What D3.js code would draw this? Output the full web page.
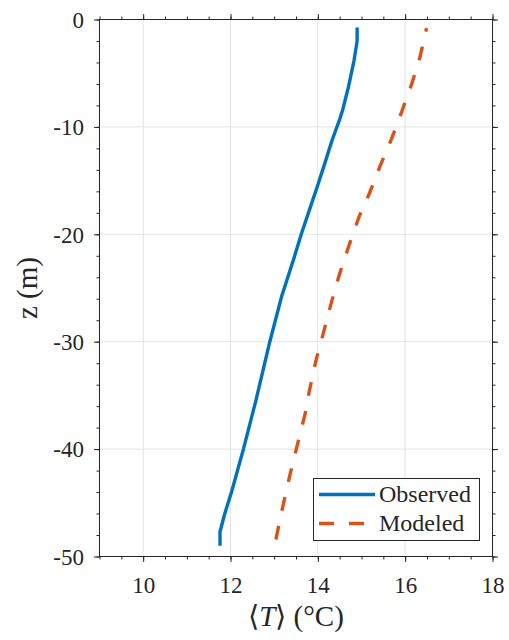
<!DOCTYPE html>
<html>
<head>
<meta charset="utf-8">
<script src="https://cdn.jsdelivr.net/npm/d3@7"></script>
<style>
  html, body { margin: 0; padding: 0; background: #fff; }
  svg { display: block; }
</style>
</head>
<body>
<svg id="chart" width="509" height="640"></svg>
<script>
// Mean temperature profiles: depth z (m) and temperature <T> (°C)
const obsDepth = [-0.75, -2.0, -3.8, -6.3, -8.4, -9.3, -11.2, -13.0, -15.4, -17.1, -20.0, -22.4, -25.8, -30.0, -35.5, -40.1, -43.9, -46.0, -47.7, -49.0];
const obsTemp  = [14.90, 14.90, 14.83, 14.70, 14.57, 14.50, 14.33, 14.19, 14.00, 13.86, 13.62, 13.44, 13.17, 12.90, 12.58, 12.29, 12.03, 11.87, 11.76, 11.76];

const modDepth = [-0.8, -3.5, -6.0, -8.6, -11.1, -13.7, -16.2, -18.3, -21.2, -23.8, -26.5, -29.3, -31.7, -34.7, -36.7, -39.8, -42.6, -45.3, -48.4, -48.9];
const modTemp  = [16.49, 16.34, 16.15, 15.92, 15.69, 15.42, 15.18, 14.95, 14.70, 14.49, 14.30, 14.12, 13.96, 13.80, 13.71, 13.52, 13.35, 13.20, 13.04, 13.01];

const tempTicks  = [10, 12, 14, 16, 18];
const tempMinor  = d3.range(9, 18.01, 0.5);
const depthTicks = [0, -10, -20, -30, -40, -50];
const depthMinor = d3.range(-50, 0.01, 2);

const seriesNames = ["Observed", "Modeled"];

(function draw() {
  const svg = d3.select("#chart");
  const mLeft = 99.5, mRight = 492.5, mTop = 19.5, mBottom = 556.5;

  const x = d3.scaleLinear().domain([9, 18]).range([mLeft, mRight]);
  const y = d3.scaleLinear().domain([-50, 0]).range([mBottom, mTop]);

  const axisColor = "#262626";
  const serifFont = '"Liberation Serif", "Times New Roman", serif';

  // grid
  const grid = svg.append("g");
  grid.selectAll(".gx").data(tempTicks.filter(t => t > 9 && t < 18)).join("line")
    .attr("x1", d => x(d)).attr("x2", d => x(d))
    .attr("y1", mTop).attr("y2", mBottom)
    .attr("stroke", "#e3e3e3").attr("stroke-width", 1);
  grid.selectAll(".gy").data(depthTicks.filter(t => t > -50 && t < 0)).join("line")
    .attr("x1", mLeft).attr("x2", mRight)
    .attr("y1", d => y(d)).attr("y2", d => y(d))
    .attr("stroke", "#e3e3e3").attr("stroke-width", 1);

  function styleAxis(g) {
    g.attr("font-family", null).attr("font-size", null);
    g.select(".domain").remove();
    g.selectAll(".tick line").attr("stroke", axisColor).attr("stroke-width", 1);
    g.selectAll(".tick text").attr("fill", axisColor)
      .style("font-family", serifFont).style("font-size", "23px");
  }

  const major = 5.5, minor = 3;

  // bottom
  svg.append("g").attr("transform", `translate(0,${mBottom})`)
    .call(d3.axisBottom(x).tickValues(tempMinor).tickSize(minor).tickFormat(""))
    .call(styleAxis);
  const bx = svg.append("g").attr("transform", `translate(0,${mBottom})`)
    .call(d3.axisBottom(x).tickValues(tempTicks).tickSize(major).tickFormat(d3.format("d")))
    .call(styleAxis);
  bx.selectAll(".tick text").attr("y", 36).attr("dy", 0);

  // top
  svg.append("g").attr("transform", `translate(0,${mTop})`)
    .call(d3.axisTop(x).tickValues(tempMinor).tickSize(minor).tickFormat(""))
    .call(styleAxis);
  svg.append("g").attr("transform", `translate(0,${mTop})`)
    .call(d3.axisTop(x).tickValues(tempTicks).tickSize(major).tickFormat(""))
    .call(styleAxis);

  // left
  svg.append("g").attr("transform", `translate(${mLeft},0)`)
    .call(d3.axisLeft(y).tickValues(depthMinor).tickSize(minor).tickFormat(""))
    .call(styleAxis);
  const ly = svg.append("g").attr("transform", `translate(${mLeft},0)`)
    .call(d3.axisLeft(y).tickValues(depthTicks).tickSize(major).tickPadding(10)
      .tickFormat(d => d === 0 ? "0" : "-" + Math.abs(d)))
    .call(styleAxis);
  ly.selectAll(".tick text").attr("dy", "0.34em");

  // right
  svg.append("g").attr("transform", `translate(${mRight},0)`)
    .call(d3.axisRight(y).tickValues(depthMinor).tickSize(minor).tickFormat(""))
    .call(styleAxis);
  svg.append("g").attr("transform", `translate(${mRight},0)`)
    .call(d3.axisRight(y).tickValues(depthTicks).tickSize(major).tickFormat(""))
    .call(styleAxis);

  // box
  svg.append("rect")
    .attr("x", mLeft).attr("y", mTop)
    .attr("width", mRight - mLeft).attr("height", mBottom - mTop)
    .attr("fill", "none").attr("stroke", axisColor).attr("stroke-width", 1);

  // profiles
  const line = d3.line().x(d => x(d[1])).y(d => y(d[0]));
  const obs = d3.zip(obsDepth, obsTemp);
  const mod = d3.zip(modDepth, modTemp);

  svg.append("path").datum(mod)
    .attr("d", line)
    .attr("fill", "none").attr("stroke", "#D95319").attr("stroke-width", 3.4)
    .attr("stroke-dasharray", "14,15.5")
    .attr("stroke-dashoffset", 10.5);

  svg.append("path").datum(obs)
    .attr("d", line)
    .attr("fill", "none").attr("stroke", "#0072BD").attr("stroke-width", 3.4)
    .attr("stroke-linejoin", "round");

  // axis labels
  const xl = svg.append("text")
    .attr("x", (mLeft + mRight) / 2).attr("y", 626)
    .attr("text-anchor", "middle").attr("fill", axisColor)
    .style("font-family", serifFont).style("font-size", "29px");
  xl.append("tspan").text("\u27E8");
  xl.append("tspan").style("font-style", "italic").text("T");
  xl.append("tspan").text("\u27E9 (\u00B0C)");

  svg.append("text")
    .attr("transform", `translate(37,${(mTop + mBottom) / 2}) rotate(-90)`)
    .attr("text-anchor", "middle").attr("fill", axisColor)
    .style("font-family", serifFont).style("font-size", "29px")
    .text("z (m)");

  // legend
  const lg = svg.append("g");
  lg.append("rect")
    .attr("x", 313.5).attr("y", 478.5).attr("width", 166).attr("height", 62)
    .attr("fill", "#fff").attr("stroke", axisColor).attr("stroke-width", 1);
  const legendRows = [
    { name: seriesNames[0], color: "#0072BD", dash: null, yy: 494.5 },
    { name: seriesNames[1], color: "#D95319", dash: "15,15", yy: 523.5 }
  ];
  legendRows.forEach(r => {
    lg.append("line")
      .attr("x1", 319).attr("x2", 375).attr("y1", r.yy).attr("y2", r.yy)
      .attr("stroke", r.color).attr("stroke-width", 3.4)
      .attr("stroke-dasharray", r.dash);
    lg.append("text")
      .attr("x", 379).attr("y", r.yy + 7)
      .attr("fill", axisColor)
      .style("font-family", serifFont).style("font-size", "24px")
      .text(r.name);
  });
})();
</script>
</body>
</html>
